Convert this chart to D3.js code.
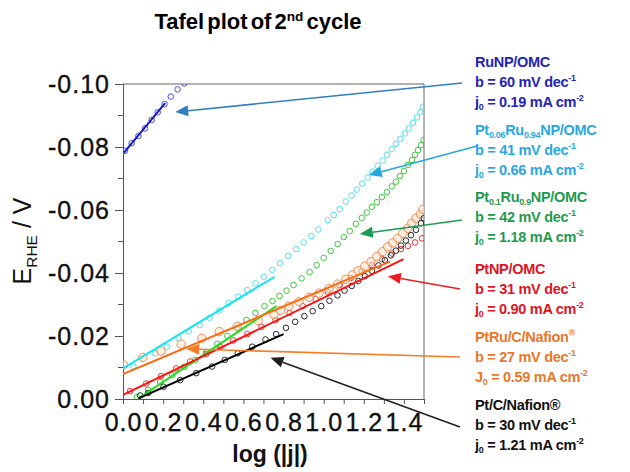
<!DOCTYPE html>
<html>
<head>
<meta charset="utf-8">
<script src="https://cdn.jsdelivr.net/npm/d3@7"></script>
<style>
body { margin: 0; background: #fff; }
svg { font-family: Arial, "Liberation Sans", sans-serif; }
</style>
</head>
<body>
<div id="chart"></div>
<script>
// values: x = log(|j|), y = E_RHE (V)
var ruX = [0.010, 0.043, 0.077, 0.110, 0.143, 0.173, 0.207, 0.238, 0.272, 0.305]
var ruY = [-0.0788, -0.0812, -0.0835, -0.0859, -0.0886, -0.0910, -0.0936, -0.0960, -0.0983, -0.1002]

var pt06X = [0.052,0.160,0.219,0.277,0.327,0.382,0.432,0.480,0.527,0.574,0.619,0.660,0.702,0.744,0.782,0.823,0.863,0.900,0.938,0.973,1.020,1.050,1.080,1.110,1.139,1.165,1.192,1.219,1.244,1.269,1.294,1.315,1.339,1.360,1.382,1.405,1.425,1.445,1.465,1.482,1.495]
var pt06Y = [-0.0103,-0.0145,-0.0166,-0.0193,-0.0214,-0.0235,-0.0258,-0.0280,-0.0304,-0.0325,-0.0346,-0.0367,-0.0388,-0.0410,-0.0431,-0.0454,-0.0476,-0.0497,-0.0517,-0.0538,-0.0568,-0.0584,-0.0603,-0.0627,-0.0646,-0.0665,-0.0684,-0.0703,-0.0722,-0.0740,-0.0757,-0.0775,-0.0793,-0.0810,-0.0826,-0.0843,-0.0859,-0.0877,-0.0894,-0.0911,-0.0928]

var pt1X = [0.070,0.125,0.185,0.245,0.305,0.360,0.415,0.470,0.520,0.570,0.615,0.660,0.705,0.745,0.780,0.815,0.850,0.890,0.930,0.965,1.000,1.035,1.070,1.100,1.130,1.160,1.190,1.215,1.240,1.265,1.290,1.315,1.340,1.360,1.380,1.400,1.420,1.440,1.455,1.470,1.485,1.498]
var pt1Y = [-0.0006,-0.0029,-0.0054,-0.0076,-0.0102,-0.0124,-0.0149,-0.0175,-0.0200,-0.0225,-0.0251,-0.0273,-0.0295,-0.0311,-0.0327,-0.0344,-0.0362,-0.0383,-0.0403,-0.0425,-0.0448,-0.0470,-0.0492,-0.0514,-0.0533,-0.0556,-0.0575,-0.0592,-0.0610,-0.0625,-0.0641,-0.0657,-0.0675,-0.0690,-0.0708,-0.0724,-0.0743,-0.0759,-0.0775,-0.0790,-0.0806,-0.0822]

var ptX = [0.035,0.115,0.190,0.265,0.335,0.415,0.485,0.550,0.620,0.690,0.760,0.830,0.895,0.960,1.020,1.080,1.135,1.190,1.240,1.290,1.340,1.385,1.420,1.455,1.490]
var ptY = [-0.0025,-0.0049,-0.0073,-0.0097,-0.0119,-0.0143,-0.0165,-0.0186,-0.0206,-0.0229,-0.0251,-0.0273,-0.0295,-0.0317,-0.0340,-0.0362,-0.0384,-0.0405,-0.0425,-0.0444,-0.0462,-0.0476,-0.0486,-0.0497,-0.0510]

var ptruX = [0.003,0.099,0.190,0.290,0.393,0.480,0.570,0.673,0.753,0.785,0.827,0.877,0.927,0.977,1.027,1.069,1.110,1.144,1.172,1.205,1.235,1.265,1.294,1.319,1.344,1.369,1.394,1.419,1.439,1.460,1.482,1.495]
var ptruY = [-0.0108,-0.0132,-0.0152,-0.0174,-0.0193,-0.0214,-0.0231,-0.0249,-0.0268,-0.0281,-0.0295,-0.0309,-0.0323,-0.0336,-0.0351,-0.0365,-0.0380,-0.0394,-0.0407,-0.0422,-0.0436,-0.0452,-0.0468,-0.0483,-0.0496,-0.0510,-0.0526,-0.0542,-0.0558,-0.0574,-0.0587,-0.0602]

var ptcX = [0.085,0.125,0.202,0.285,0.365,0.444,0.507,0.572,0.644,0.710,0.763,0.812,0.858,0.904,0.945,0.988,1.029,1.069,1.104,1.140,1.173,1.205,1.240,1.273,1.305,1.335,1.360,1.385,1.410,1.435,1.460,1.485,1.499]
var ptcY = [-0.0011,-0.0019,-0.0039,-0.0060,-0.0082,-0.0103,-0.0124,-0.0145,-0.0166,-0.0189,-0.0206,-0.0226,-0.0245,-0.0263,-0.0279,-0.0295,-0.0312,-0.0329,-0.0344,-0.0359,-0.0375,-0.0390,-0.0407,-0.0424,-0.0441,-0.0456,-0.0471,-0.0487,-0.0503,-0.0520,-0.0537,-0.0558,-0.0574]

// Tafel fit lines, [start, end] in x and y
var fitX = [[0.005, 0.210], [0.0, 0.755], [0.077, 0.765], [0.0, 1.398], [0.0, 1.33], [0.077, 0.80]]
var fitY = [[-0.0782, -0.0939], [-0.0097, -0.0388], [-0.0002, -0.0295], [-0.0013, -0.0444], [-0.0079, -0.0436], [-0.0002, -0.0206]]

// where each annotation arrow points, in data units
var arrowTipX = [0.26, 1.225, 1.18, 1.32, 0.315, 0.735]
var arrowTipY = [-0.0911, -0.0711, -0.0524, -0.0390, -0.0159, -0.0131]

var legendLines = [
  ["RuNP/OMC", "b = 60 mV dec^{-1}", "j_{0} = 0.19 mA cm^{-2}"],
  ["Pt_{0.06}Ru_{0.94}NP/OMC", "b = 41 mV dec^{-1}", "j_{0} = 0.66 mA cm^{-2}"],
  ["Pt_{0.1}Ru_{0.9}NP/OMC", "b = 42 mV dec^{-1}", "j_{0} = 1.18 mA cm^{-2}"],
  ["PtNP/OMC", "b = 31 mV dec^{-1}", "j_{0} = 0.90 mA cm^{-2}"],
  ["PtRu/C/Nafion^{®}", "b = 27 mV dec^{-1}", "J_{0} = 0.59 mA cm^{-2}"],
  ["Pt/C/Nafion®", "b = 30 mV dec^{-1}", "j_{0} = 1.21 mA cm^{-2}"]
]

var xTicks = [0, 0.2, 0.4, 0.6, 0.8, 1.0, 1.2, 1.4]
var yTicks = [0, -0.02, -0.04, -0.06, -0.08, -0.10]

var seriesX = [ruX, pt06X, pt1X, ptX, ptruX, ptcX]
var seriesY = [ruY, pt06Y, pt1Y, ptY, ptruY, ptcY]
var dotColor = ['#4a4ad8', '#55e0f0', '#40c840', '#e23a3a', '#e8905c', '#2a2a2a']
var fitColor = ['#1414c8', '#16e4f0', '#22dd22', '#ff1010', '#ff6a10', '#000000']
var arrowColor = ['#2f7fc1', '#26a9e0', '#1d9a55', '#ee1c24', '#f47f28', '#231f20']
var textColor = ['#2424b4', '#2aa7df', '#1f9a4b', '#e0141e', '#e8782a', '#111111']

var width = 630
var height = 472
var plotL = 123, plotR = 424, plotT = 84, plotB = 399

var x = d3.scaleLinear().domain([0, 1.5]).range([plotL, plotR])
var y = d3.scaleLinear().domain([0, -0.1]).range([plotB, plotT])

var svg = d3.select('#chart').append('svg').attr('width', width).attr('height', height)

svg.append('defs').append('clipPath').attr('id', 'plotclip')
  .append('rect').attr('x', plotL).attr('y', plotT).attr('width', plotR - plotL).attr('height', plotB - plotT)

// writes "a_{sub}b^{sup}" style strings as tspans
function richText(sel, str, size) {
  var parts = str.split(/([_^]\{[^}]*\})/)
  var shift = 0
  parts.forEach(function(p) {
    if (p == '') return
    if (p[0] == '_' && p[1] == '{') {
      sel.append('tspan').attr('font-size', size * 0.62).attr('dy', size * 0.22 - shift).text(p.slice(2, -1))
      shift = size * 0.22
    } else if (p[0] == '^' && p[1] == '{') {
      sel.append('tspan').attr('font-size', size * 0.62).attr('dy', -size * 0.38 - shift).text(p.slice(2, -1))
      shift = -size * 0.38
    } else {
      sel.append('tspan').attr('font-size', size).attr('dy', -shift).text(p)
      shift = 0
    }
  })
}

// title
var title = svg.append('text').attr('x', 258).attr('y', 29).attr('text-anchor', 'middle')
  .attr('font-weight', 'bold').attr('word-spacing', -3).attr('fill', '#000')
richText(title, 'Tafel plot of 2^{nd} cycle', 22)

// axes
var xAxis = d3.axisBottom(x).tickValues(d3.range(0, 16).map(d => d / 10)).tickSize(5)
  .tickFormat(d => xTicks.some(t => Math.abs(t - d) < 1e-9) ? d.toFixed(1) : '')
var gx = svg.append('g').attr('transform', 'translate(0,' + plotB + ')').call(xAxis)
gx.selectAll('text').attr('font-size', 25).attr('letter-spacing', 1).attr('fill', '#111')
  .attr('stroke', '#111').attr('stroke-width', 0.35).attr('dy', '0.95em')

var yAxis = d3.axisLeft(y).tickValues(yTicks).tickSize(8).tickPadding(5).tickFormat(d => d.toFixed(2))
var gy = svg.append('g').attr('transform', 'translate(' + plotL + ',0)').call(yAxis)
gy.selectAll('text').attr('font-size', 25).attr('letter-spacing', 1).attr('fill', '#111')
  .attr('stroke', '#111').attr('stroke-width', 0.35)
gy.append('g').selectAll('line').data([-0.01, -0.03, -0.05, -0.07, -0.09]).join('line')
  .attr('x1', -5).attr('x2', 0).attr('y1', d => y(d)).attr('y2', d => y(d)).attr('stroke', '#555')

svg.selectAll('.domain').attr('stroke', '#555')
svg.selectAll('.tick line').attr('stroke', '#555')

// frame top and right
svg.append('path').attr('d', 'M' + plotL + ',' + plotT + 'H' + plotR + 'V' + plotB)
  .attr('fill', 'none').attr('stroke', '#666').attr('stroke-width', 1)

// axis titles
var ylab = svg.append('text').attr('transform', 'translate(31,241) rotate(-90)')
  .attr('text-anchor', 'middle').attr('fill', '#111')
richText(ylab, 'E_{RHE} / V', 25)

svg.append('text').attr('x', 270).attr('y', 462).attr('text-anchor', 'middle')
  .attr('font-size', 23).attr('font-weight', 'bold').attr('fill', '#111').text('log (|j|)')

// points and fit lines
var plot = svg.append('g').attr('clip-path', 'url(#plotclip)')

for (var s = 0; s < seriesX.length; s++) {
  var pts = seriesX[s].map((v, i) => [v, seriesY[s][i]])
  var isOrange = s == 4
  plot.append('g').selectAll('circle').data(pts).join('circle')
    .attr('cx', d => x(d[0])).attr('cy', d => y(d[1]))
    .attr('r', isOrange ? 4.2 : 2.8)
    .attr('fill', isOrange ? 'rgba(255,225,200,0.55)' : 'none')
    .attr('stroke', dotColor[s]).attr('stroke-width', 1)
}

for (var s = 0; s < fitX.length; s++) {
  plot.append('line')
    .attr('x1', x(fitX[s][0])).attr('y1', y(fitY[s][0]))
    .attr('x2', x(fitX[s][1])).attr('y2', y(fitY[s][1]))
    .attr('stroke', fitColor[s]).attr('stroke-width', 2)
}

// legend blocks on the right with arrows to the curves
var legendX = 475
var legendTop = [67, 135, 202, 274, 342, 410]
var arrowTail = [[462, 83], [477, 146], [462, 220], [460, 289], [460, 357], [460, 427]]

for (var s = 0; s < legendLines.length; s++) {
  var tip = [x(arrowTipX[s]), y(arrowTipY[s])]
  var tail = arrowTail[s]
  var dx = tip[0] - tail[0], dy = tip[1] - tail[1]
  var len = Math.sqrt(dx * dx + dy * dy)
  var ux = dx / len, uy = dy / len
  var hl = 13, hw = 5.5
  var base = [tip[0] - ux * hl, tip[1] - uy * hl]
  svg.append('line').attr('x1', tail[0]).attr('y1', tail[1]).attr('x2', base[0]).attr('y2', base[1])
    .attr('stroke', arrowColor[s]).attr('stroke-width', 1.6)
  svg.append('path')
    .attr('d', 'M' + tip[0] + ',' + tip[1] +
      'L' + (base[0] - uy * hw) + ',' + (base[1] + ux * hw) +
      'L' + (base[0] + uy * hw) + ',' + (base[1] - ux * hw) + 'Z')
    .attr('fill', arrowColor[s])

  for (var k = 0; k < 3; k++) {
    var t = svg.append('text').attr('x', legendX).attr('y', legendTop[s] + k * 20)
      .attr('font-weight', 'bold').attr('fill', textColor[s]).attr('letter-spacing', -0.3)
    richText(t, legendLines[s][k], 14.5)
  }
}
</script>
</body>
</html>
